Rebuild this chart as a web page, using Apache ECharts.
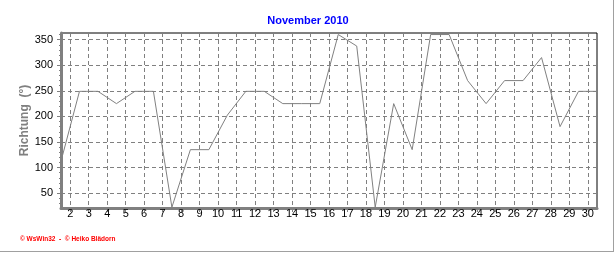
<!DOCTYPE html>
<html>
<head>
<meta charset="utf-8">
<script src="https://cdn.jsdelivr.net/npm/echarts@6/dist/echarts.min.js"></script>
<style>
html,body{margin:0;padding:0;background:#fff;}
#chart{width:616px;height:253px;}
</style>
</head>
<body>
<div id="chart"></div>
<script>
// Data (wind direction, November 2010)
const days = [1,2,3,4,5,6,7,8,9,10,11,12,13,14,15,16,17,18,19,20,21,22,23,24,25,26,27,28,29,30];
const direction = [112.5,249,249,225,249,249,22.5,135,135,202.5,249,249,225,225,225,360,337.5,22.5,225,135,360,360,270,225,270,270,315,180,249,249];
// x tick labels sit halfway between the daily points
const xTickLabels = ['2','3','4','5','6','7','8','9','10','11','12','13','14','15','16','17','18','19','20','21','22','23','24','25','26','27','28','29','30'];
const yTickValues = [50,100,150,200,250,300,350];
const titleText = 'November 2010';
const yName = 'Richtung  (°)';
const footer = '© WsWin32  -  © Heiko Blädorn';

const xTickPos = xTickLabels.map(l => Number(l) - 0.5);
const xMinorPos = [];
for (let i = 0; i < days.length - 1; i++) for (let k = 1; k < 4; k++) { const v = days[i] + k * 0.25; if (v !== days[i] + 0.5) xMinorPos.push(v); }
const yMinorPos = [];
for (let v = 30; v <= 360; v += 10) if (v % 50 !== 0) yMinorPos.push(v);

const narrow = '"Liberation Sans Narrow", "Liberation Sans", Arial, sans-serif';
const chart = echarts.init(document.getElementById('chart'), null, {renderer: 'canvas'});
chart.setOption({
  animation: false,
  backgroundColor: '#fff',
  title: {
    text: titleText, left: 'center', top: 10,
    textStyle: {color: '#0000ff', fontSize: 11, fontWeight: 'bold', fontFamily: '"Liberation Sans", Arial, sans-serif'}
  },
  grid: {left: 61, right: 19, top: 33, bottom: 45, show: true, borderColor: '#000', borderWidth: 1, backgroundColor: 'transparent'},
  xAxis: [{
    type: 'value', min: days[0], max: days[days.length - 1],
    axisLine: {show: true, lineStyle: {color: '#808080', width: 3}},
    axisTick: {show: true, length: 4, inside: false, lineStyle: {color: '#808080'}, customValues: xTickPos},
    axisLabel: {show: true, customValues: xTickPos, margin: 0, color: '#000', fontSize: 11, fontFamily: narrow,
      formatter: v => xTickLabels[xTickPos.indexOf(v)] || ''},
    splitLine: {show: true, lineStyle: {color: '#808080', type: [4, 3], width: 1}}
  }, {
    type: 'value', min: days[0], max: days[days.length - 1], position: 'bottom',
    axisLine: {show: false},
    axisTick: {show: true, length: 2, lineStyle: {color: '#808080'}, customValues: xMinorPos},
    axisLabel: {show: false}, splitLine: {show: false}
  }],
  yAxis: [{
    type: 'value', min: 21, max: 363,
    name: yName, nameLocation: 'middle', nameRotate: 90, nameGap: 30, nameMoveOverlap: false,
    nameTextStyle: {color: '#808080', fontSize: 12, fontWeight: 'bold', fontFamily: '"Liberation Sans", Arial, sans-serif'},
    axisLine: {show: true, lineStyle: {color: '#808080', width: 3}},
    axisTick: {show: true, length: 4, lineStyle: {color: '#808080'}, customValues: yTickValues},
    axisLabel: {show: true, customValues: yTickValues, margin: 8, color: '#000', fontSize: 11, fontFamily: narrow},
    splitLine: {show: true, lineStyle: {color: '#808080', type: [4, 3], width: 1}}
  }, {
    type: 'value', min: 21, max: 363, position: 'left',
    axisLine: {show: false},
    axisTick: {show: true, length: 2, lineStyle: {color: '#808080'}, customValues: yMinorPos},
    axisLabel: {show: false}, splitLine: {show: false}
  }],
  graphic: [
    {type: 'text', left: 20, top: 236, style: {text: footer, fill: '#ff0000', font: 'bold 6.5px "Liberation Sans", Arial, sans-serif'}},
    {type: 'line', shape: {x1: 613.5, y1: 0, x2: 613.5, y2: 251}, style: {stroke: '#a0a0a0', lineWidth: 1}},
    {type: 'line', shape: {x1: 0, y1: 251.5, x2: 614, y2: 251.5}, style: {stroke: '#a0a0a0', lineWidth: 1}}
  ],
  series: [{
    type: 'line', xAxisIndex: 0, yAxisIndex: 0,
    data: days.map((d, i) => [d, direction[i]]),
    showSymbol: false, symbol: 'none',
    lineStyle: {color: '#808080', width: 1}
  }]
});
</script>
</body>
</html>
